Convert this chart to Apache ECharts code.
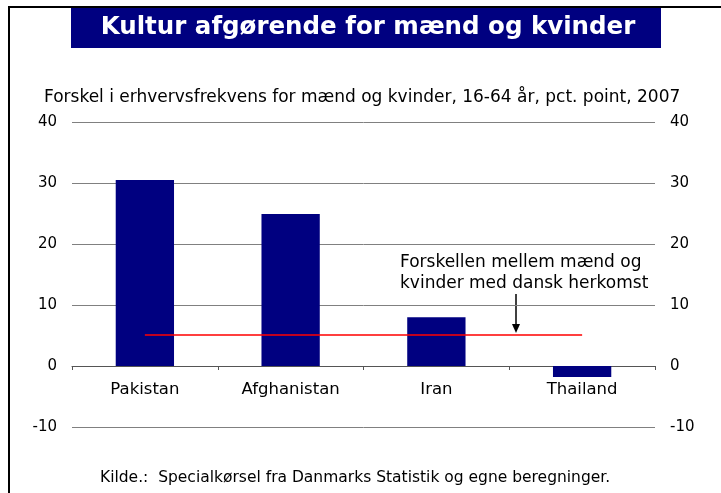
<!DOCTYPE html>
<html>
<head>
    <meta charset="utf-8">
    <title>Kultur afgørende for mænd og kvinder</title>
    <script src="https://cdn.jsdelivr.net/npm/echarts@6/dist/echarts.min.js"></script>
    <style>
        html, body { margin: 0; padding: 0; background: #fff; }
        #chart1 { width: 721px; height: 493px; }
    </style>
</head>
<body>
<div id="chart1"></div>
<script type="text/javascript">
    // data
    var countries = ['Pakistan', 'Afghanistan', 'Iran', 'Thailand'];
    var gap = [30.5, 24.9, 8.0, -1.8];
    // gap for people of Danish origin (red line)
    var danishGap = [5.1, 5.1, 5.1, 5.1];
    var yTicks = { min: -10, max: 40, step: 10 };

    var font = 'DejaVu Sans, Verdana, sans-serif';
    var myChart1 = echarts.init(document.getElementById('chart1'));

    var options = {
        animation: false,
        textStyle: { fontFamily: font },
        grid: { left: 72, right: 66, top: 122, bottom: 66 },
        xAxis: {
            type: 'category',
            data: countries,
            // category axis sits at y = 0 (one step above the bottom)
            offset: -61,
            axisLine: { onZero: false, lineStyle: { color: '#555', width: 1 } },
            axisTick: { show: true, interval: 0, length: 4, lineStyle: { color: '#555' } },
            axisLabel: { color: '#000', fontSize: 16.5, margin: 15, fontFamily: font }
        },
        yAxis: [{
            type: 'value',
            position: 'left',
            min: yTicks.min, max: yTicks.max, interval: yTicks.step,
            axisLine: { show: false },
            axisTick: { show: false },
            axisLabel: { color: '#000', fontSize: 15, margin: 15, fontFamily: font },
            splitLine: { lineStyle: { color: '#808080', width: 1 } }
        }, {
            type: 'value',
            position: 'right',
            min: yTicks.min, max: yTicks.max, interval: yTicks.step,
            axisLine: { show: false },
            axisTick: { show: false },
            axisLabel: { color: '#000', fontSize: 15, margin: 15, fontFamily: font },
            splitLine: { show: false }
        }],
        series: [{
            name: 'Forskel',
            type: 'bar',
            data: gap,
            barWidth: '40%',
            itemStyle: { color: '#000080' }
        }, {
            name: 'Dansk herkomst',
            type: 'line',
            data: danishGap,
            symbol: 'none',
            lineStyle: { color: '#ff0000', width: 1.5 },
            z: 5
        }],
        graphic: [
            // frame
            {
                type: 'polyline',
                shape: { points: [[9, 500], [9, 7], [721, 7]] },
                style: { stroke: '#000', lineWidth: 2, fill: null }
            },
            // title box
            {
                type: 'rect',
                shape: { x: 71, y: 8, width: 590, height: 40 },
                style: { fill: '#000080' }
            },
            {
                type: 'text',
                x: 368, y: 28,
                style: {
                    text: 'Kultur afgørende for mænd og kvinder',
                    fill: '#fff', font: 'bold 24.5px ' + font,
                    align: 'center', verticalAlign: 'middle'
                }
            },
            {
                type: 'text',
                x: 44, y: 98,
                style: {
                    text: 'Forskel i erhvervsfrekvens for mænd og kvinder, 16-64 år, pct. point, 2007',
                    fill: '#000', font: '17px ' + font, verticalAlign: 'middle'
                }
            },
            // annotation
            {
                type: 'text',
                x: 400, y: 252,
                style: {
                    text: 'Forskellen mellem mænd og\nkvinder med dansk herkomst',
                    fill: '#000', font: '17px ' + font, lineHeight: 21
                }
            },
            {
                type: 'line',
                shape: { x1: 516, y1: 294, x2: 516, y2: 326 },
                style: { stroke: '#000', lineWidth: 1.5 }
            },
            {
                type: 'polygon',
                shape: { points: [[512, 324], [520, 324], [516, 333]] },
                style: { fill: '#000' }
            },
            {
                type: 'text',
                x: 100, y: 478,
                style: {
                    text: 'Kilde.:  Specialkørsel fra Danmarks Statistik og egne beregninger.',
                    fill: '#000', font: '15.5px ' + font, verticalAlign: 'middle'
                }
            }
        ]
    };
    myChart1.setOption(options);
    window.addEventListener('resize', function () {
        myChart1.resize()
    })
</script>
</body>
</html>
